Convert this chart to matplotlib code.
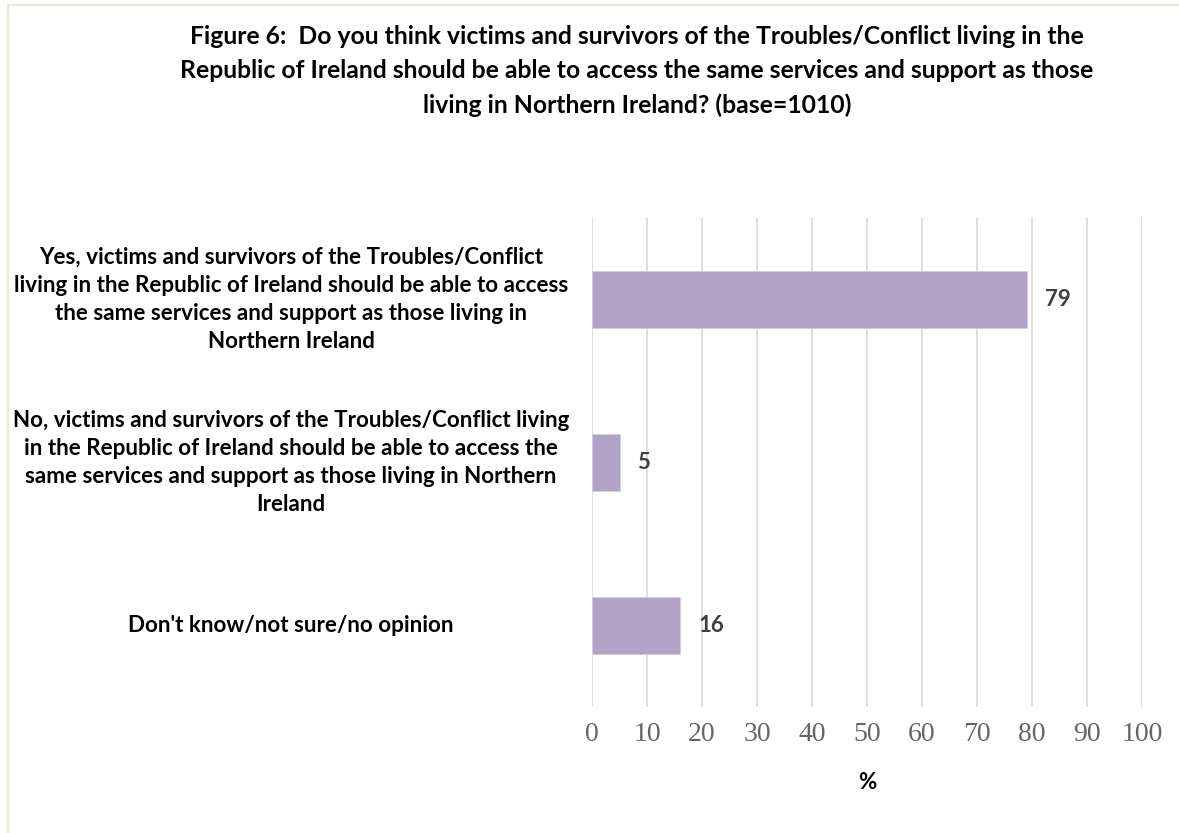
#-------------------------------------------------------------------------------------------------------------------
# Survey chart: access to services for victims and survivors living in the Republic of Ireland
#-------------------------------------------------------------------------------------------------------------------

import matplotlib.pyplot as plt                                      # plotting library
from matplotlib.transforms import blended_transform_factory           # mix figure and data coordinates
from matplotlib.patches import Rectangle                              # frame around the figure
import numpy as np                                                   # import the Numpy package

#==================================================================================================================#
# DATA
#==================================================================================================================#

categories = [
    "Yes, victims and survivors of the Troubles/Conflict\nliving in the Republic of Ireland should be able to access\nthe same services and support as those living in\nNorthern Ireland",
    "No, victims and survivors of the Troubles/Conflict living\nin the Republic of Ireland should be able to access the\nsame services and support as those living in Northern\nIreland",
    "Don't know/not sure/no opinion",
]
values = [79, 5, 16]
xticks = list(range(0, 101, 10))

title = ("Figure 6:  Do you think victims and survivors of the Troubles/Conflict living in the\n"
         "Republic of Ireland should be able to access the same services and support as those\n"
         "living in Northern Ireland? (base=1010)")

#==================================================================================================================#
# STYLE
#==================================================================================================================#

sans = ['Lato', 'DejaVu Sans']
serif = ['Liberation Serif', 'DejaVu Serif']
bar_color = '#b3a2c7'
grid_color = '#d9d9d9'

#==================================================================================================================#
# CREATE THE PLOT
#==================================================================================================================#

fig = plt.figure(figsize=(11.79, 8.33), dpi=100)
ax = fig.add_axes([592/1179, 1 - 707/833, 550/1179, 489/833])

# horizontal bars, first category on top
y = np.arange(len(categories))
ax.barh(y, values, height=0.35, color=bar_color, edgecolor='#d5cce3', linewidth=0.6, zorder=3)
ax.set_ylim(len(categories) - 0.5, -0.5)
ax.set_xlim(0, 100)

# vertical gridlines, no spines or tick marks
ax.set_xticks(xticks)
ax.grid(axis='x', color=grid_color, linewidth=1.2, zorder=0)
for s in ax.spines.values():
  s.set_visible(False)
ax.tick_params(axis='both', length=0)
ax.set_yticks([])
ax.set_xticklabels([str(t) for t in xticks], family=serif, fontsize=20, color='#666666')
ax.tick_params(axis='x', pad=11)

# axis title
ax.set_xlabel('%', family=sans, fontweight='bold', fontsize=16, color='black', labelpad=18)

# category labels, centred in the left margin
trans = blended_transform_factory(fig.transFigure, ax.transData)
for yi, lab in zip(y, categories):
  ax.text(291/1179, yi, lab, transform=trans, ha='center', va='center', multialignment='center',
          family=sans, fontweight='bold', fontsize=16.1, linespacing=1.42, color='black')

# value labels next to each bar
for yi, v in zip(y, values):
  ax.annotate(str(v), (v, yi), xytext=(13, 0), textcoords='offset points', ha='left', va='center',
              family=sans, fontweight='bold', fontsize=16, color='#404040')

# chart title
fig.text(637/1179, 1 - 71/833, title, ha='center', va='center', multialignment='center',
         family=sans, fontweight='bold', fontsize=17.8, linespacing=1.6, color='black')

# light frame around the chart area
fig.patches.append(Rectangle((8/1179, -0.02), 1.05, 1.02 - 5/833, transform=fig.transFigure,
                             fill=False, edgecolor='#ece8dc', linewidth=1.5))

#==================================================================================================================#
# SAVE THE PLOT
#==================================================================================================================#

plt.savefig('out.png', dpi=100)
